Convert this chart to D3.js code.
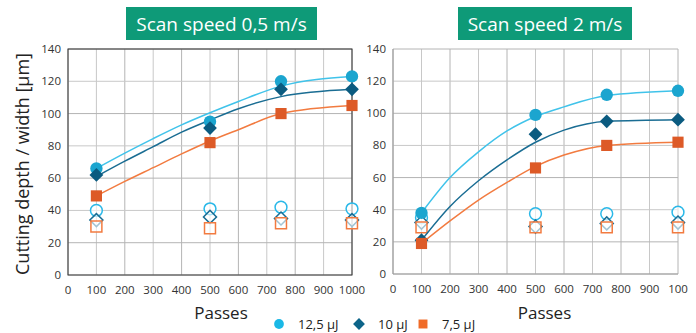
<!DOCTYPE html>
<html>
<head>
<meta charset="utf-8">
<script src="https://cdn.jsdelivr.net/npm/d3@7"></script>
<style>
  body { margin: 0; background: white; }
  svg { font-family: "Open Sans", sans-serif; }
</style>
</head>
<body>
<svg id="chart" width="696" height="333"></svg>
<script>
// data
var passes = [100, 500, 750, 1000];
var trendPasses = [100, 200, 300, 400, 500, 600, 750, 1000];
var xTicks = [0, 100, 200, 300, 400, 500, 600, 700, 800, 900, 1000];
var yTicks = [0, 20, 40, 60, 80, 100, 120, 140];
var energies = ["12,5 µJ", "10 µJ", "7,5 µJ"];

// scan speed 0,5 m/s
var slowDepth125 = [66, 95, 120, 123];
var slowDepth10 = [62, 91, 115, 115];
var slowDepth75 = [49, 82, 100, 105];
var slowWidth125 = [40, 41, 42, 41];
var slowWidth10 = [34, 36, 35, 34];
var slowWidth75 = [30, 29, 32, 32];
var slowTrend125 = [66, 75.5, 84.5, 93, 100.5, 107.5, 117, 123];
var slowTrend10 = [61, 70.5, 79.5, 88.5, 96, 103, 110.5, 115];
var slowTrend75 = [49, 58, 66.5, 75, 83, 90, 100, 105];

// scan speed 2 m/s
var fastDepth125 = [38, 99, 111.5, 114];
var fastDepth10 = [21, 87, 95, 96];
var fastDepth75 = [19, 66, 80, 82];
var fastWidth125 = [35, 37.5, 37.5, 38.5];
var fastWidth10 = [32, 29.5, 31.5, 32];
var fastWidth75 = [29, 29, 29, 29];
var fastTrend125 = [38, 60, 76, 89, 98, 104, 111, 114];
var fastTrend10 = [21, 42, 58, 71, 82, 89.5, 95, 96];
var fastTrend75 = [19, 33, 46, 57, 67, 74, 80, 82];

var svg = d3.select("#chart");

var markColor = ["#1ba5cf", "#0b5b80", "#dd5a27"];
var lineColor = ["#40c3ea", "#1a6d93", "#f27b40"];
var openColor = ["#2ab8e8", "#1a6d93", "#f27b40"];
// circle, diamond (a square turned 45deg), square
var shapes = [d3.symbolCircle, d3.symbolSquare, d3.symbolSquare];
var turns = [0, 45, 0];

function markTransform(px, py, k) {
  return "translate(" + px + "," + py + ") rotate(" + turns[k] + ")";
}

function drawPanel(opt) {
  var x = d3.scaleLinear().domain([0, 1000]).range([opt.left, opt.right]);
  var y = d3.scaleLinear().domain([0, 140]).range([opt.bottom, opt.top]);
  var g = svg.append("g");

  // grid
  g.selectAll(".vgrid").data(xTicks).enter().append("line")
    .attr("x1", function(d){ return x(d); }).attr("x2", function(d){ return x(d); })
    .attr("y1", y(0)).attr("y2", y(140))
    .style("stroke", function(d, i){ return i % 2 ? "#c8c8c8" : "#b4b4b4"; })
    .style("stroke-width", 1);
  g.selectAll(".hgrid").data(yTicks).enter().append("line")
    .attr("x1", x(0)).attr("x2", x(1000))
    .attr("y1", function(d){ return y(d); }).attr("y2", function(d){ return y(d); })
    .style("stroke", function(d, i){ return i % 2 ? "#b4b4b4" : "#c8c8c8"; })
    .style("stroke-width", 1);

  if (opt.frame) {
    g.append("rect")
      .attr("x", x(0)).attr("y", y(140))
      .attr("width", x(1000) - x(0)).attr("height", y(0) - y(140))
      .attr("fill", "none").style("stroke", "#333").style("stroke-width", 1);
  } else {
    g.append("line").attr("x1", x(0)).attr("x2", x(0)).attr("y1", y(0)).attr("y2", y(140))
      .style("stroke", "#999");
    g.append("line").attr("x1", x(0)).attr("x2", x(1000)).attr("y1", y(0)).attr("y2", y(0))
      .style("stroke", "#999");
  }

  // tick labels
  g.selectAll(".xl").data(xTicks).enter().append("text")
    .attr("x", function(d){ return x(d); }).attr("y", opt.bottom + 19)
    .attr("text-anchor", "middle").attr("font-size", 11.5).attr("fill", "#333")
    .text(function(d){ return opt.clipLast && d == 1000 ? "100" : d; });
  g.selectAll(".yl").data(yTicks).enter().append("text")
    .attr("x", opt.left - 7).attr("y", function(d){ return y(d) + 4; })
    .attr("text-anchor", "end").attr("font-size", 11.5).attr("fill", "#333")
    .text(function(d){ return d; });

  g.append("text")
    .attr("x", (opt.left + opt.right) / 2 + opt.passOffset).attr("y", 319)
    .attr("text-anchor", "middle").attr("font-size", 17).attr("fill", "#222")
    .text("Passes");

  // title box
  g.append("rect")
    .attr("x", opt.titleX).attr("y", 7).attr("width", opt.titleW).attr("height", 33)
    .attr("fill", "#0e9a78");
  g.append("text")
    .attr("x", opt.titleX + opt.titleW / 2).attr("y", 30.5)
    .attr("text-anchor", "middle").attr("font-size", 19).attr("fill", "white")
    .text(opt.title);

  // open markers (width)
  opt.width.forEach(function(series, k){
    g.selectAll(".w" + k).data(series).enter().append("path")
      .attr("d", d3.symbol().type(shapes[k]).size([110, 85, 120][k]))
      .attr("transform", function(d, i){ return markTransform(x(passes[i]), y(d), k); })
      .attr("fill", "white").attr("fill-opacity", 0.6)
      .style("stroke", openColor[k]).style("stroke-width", 1.5);
  });

  // trend lines
  var line = d3.line()
    .x(function(d, i){ return x(trendPasses[i]); })
    .y(function(d){ return y(d); })
    .curve(d3.curveMonotoneX);
  opt.trend.forEach(function(series, k){
    g.append("path").datum(series).attr("d", line)
      .attr("fill", "none").style("stroke", lineColor[k]).style("stroke-width", 1.5);
  });

  // filled markers (depth)
  opt.depth.forEach(function(series, k){
    g.selectAll(".d" + k).data(series).enter().append("path")
      .attr("d", d3.symbol().type(shapes[k]).size([120, 95, 125][k]))
      .attr("transform", function(d, i){ return markTransform(x(passes[i]), y(d), k); })
      .attr("fill", markColor[k]);
  });
}

drawPanel({
  left: 68, right: 352, top: 49, bottom: 275, frame: true, clipLast: false, passOffset: 11,
  title: "Scan speed 0,5 m/s", titleX: 126, titleW: 191,
  depth: [slowDepth125, slowDepth10, slowDepth75],
  width: [slowWidth125, slowWidth10, slowWidth75],
  trend: [slowTrend125, slowTrend10, slowTrend75]
});

drawPanel({
  left: 393, right: 678, top: 49, bottom: 274, frame: false, clipLast: true, passOffset: 9,
  title: "Scan speed 2 m/s", titleX: 458, titleW: 174,
  depth: [fastDepth125, fastDepth10, fastDepth75],
  width: [fastWidth125, fastWidth10, fastWidth75],
  trend: [fastTrend125, fastTrend10, fastTrend75]
});

// y axis title
svg.append("text")
  .attr("transform", "translate(29,164) rotate(-90)")
  .attr("text-anchor", "middle").attr("font-size", 18).attr("fill", "#222")
  .text("Cutting depth / width [µm]");

// legend
var legendX = [279, 359, 423];
var legend = svg.append("g");
energies.forEach(function(name, k){
  legend.append("path")
    .attr("d", d3.symbol().type(shapes[k]).size([75, 70, 80][k]))
    .attr("transform", markTransform(legendX[k], 324, k))
    .attr("fill", ["#1ab8e6", "#0d6489", "#f06b28"][k]);
  legend.append("text")
    .attr("x", legendX[k] + 19).attr("y", 329)
    .attr("font-size", 13).attr("fill", "#222")
    .text(name);
});
</script>
</body>
</html>
